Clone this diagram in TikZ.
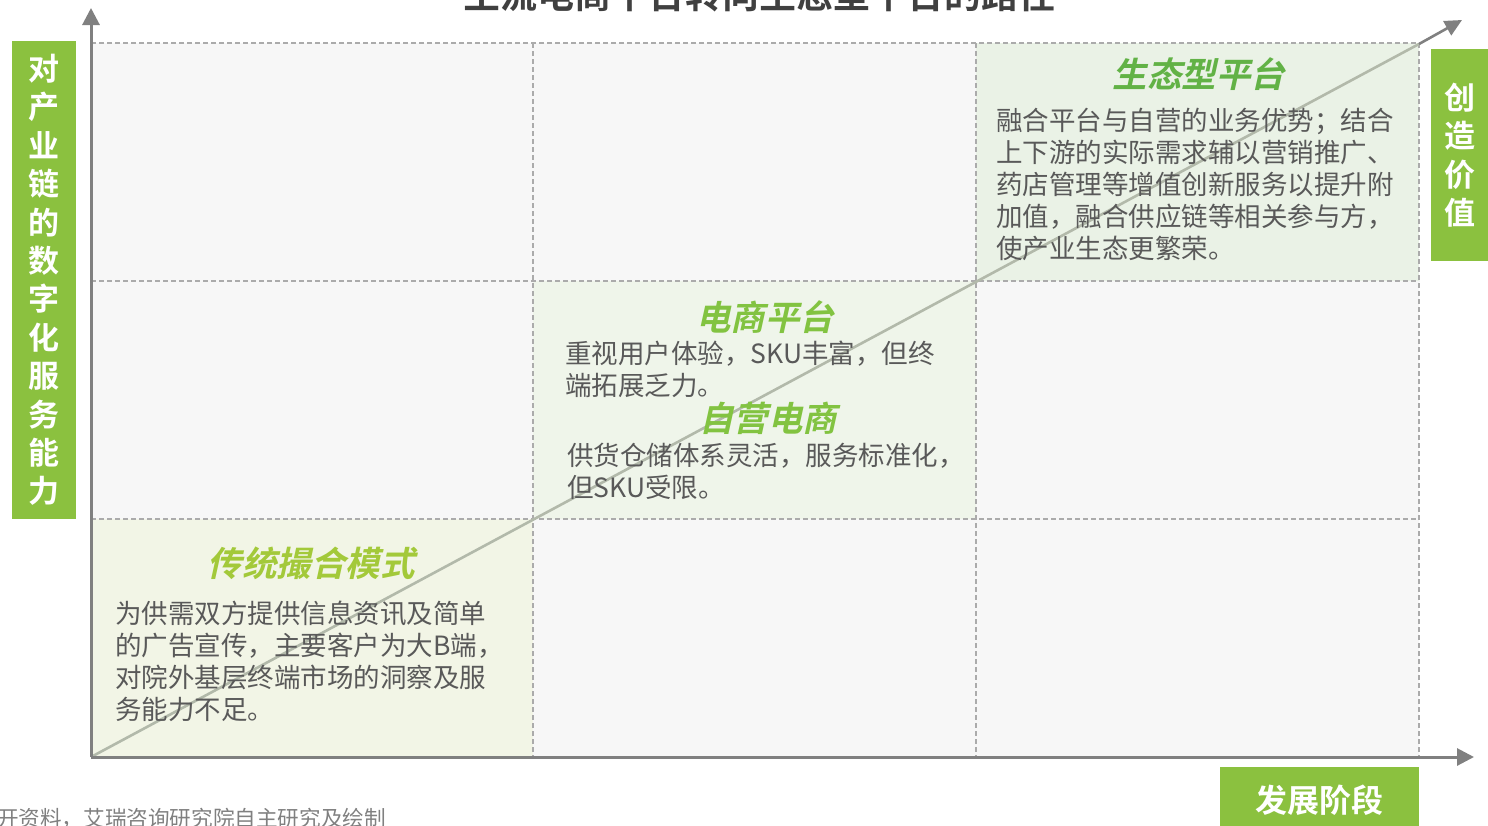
\documentclass[tikz,border=0pt]{standalone}
\usepackage{fontspec}
\setmainfont{Noto Sans CJK SC}[BoldFont={Noto Sans CJK SC Bold}]
\newfontfamily\slfont{Noto Sans CJK SC Bold}[FakeSlant=0.22]
\usetikzlibrary{arrows.meta}
\definecolor{labgreen}{HTML}{8BC13F}
\definecolor{bodygray}{HTML}{595959}
\definecolor{gridgray}{HTML}{ABABAB}
\definecolor{axisgray}{HTML}{808080}
\definecolor{diaggray}{HTML}{B2B9AA}
\definecolor{cellbg}{HTML}{F7F7F7}
\definecolor{cellbl}{HTML}{F2F5E6}
\definecolor{cellmid}{HTML}{EFF5EA}
\definecolor{celltr}{HTML}{EAF2E6}
\definecolor{catA}{HTML}{A3C93A}
\definecolor{catB}{HTML}{82C341}
\definecolor{catC}{HTML}{62B246}
\definecolor{titlegray}{HTML}{404040}
\definecolor{srcgray}{HTML}{808080}
\begin{document}
\begin{tikzpicture}[x=1pt,y=-1pt,
  body/.style={anchor=north west, inner sep=0pt, align=left, text=bodygray, font=\fontsize{26.5}{32}\selectfont},
  cat/.style={inner sep=0pt, font=\slfont\fontsize{34.5}{34.5}\selectfont},
  labbox/.style={fill=labgreen, text=white, inner sep=0pt, align=center, font=\bfseries\fontsize{31}{38.4}\selectfont},
  gridline/.style={draw=gridgray, line width=1.4pt, dash pattern=on 5pt off 3pt},
  axis/.style={draw=axisgray, line width=3pt, -{Triangle[length=17pt,width=17pt]}},
]
\useasboundingbox (0,0) rectangle (1488,825);
\clip (0,0) rectangle (1488,825);

% cells
\fill[cellbg] (91,43) rectangle (1419,757);
\fill[cellbl] (91,519) rectangle (533,757);
\fill[cellmid] (533,281) rectangle (976,519);
\fill[celltr] (976,43) rectangle (1419,281);

% grid
\draw[gridline] (91,43) -- (1419,43);
\draw[gridline] (91,281) -- (1419,281);
\draw[gridline] (91,519) -- (1419,519);
\draw[gridline] (533,43) -- (533,757);
\draw[gridline] (976,43) -- (976,757);
\draw[gridline] (1419,43) -- (1419,757);

% coordinates
\coordinate (O) at (91,757);
\coordinate (ytip) at (91,8);
\coordinate (xtip) at (1474,757);
\coordinate (dmid) at (1419,44);
\coordinate (dtip) at (1462,20);

% diagonal
\draw[diaggray, line width=2.6pt] (O) -- (dmid);
\draw[axisgray, line width=2.6pt, -{Triangle[length=17pt,width=16pt]}] (dmid) -- (dtip);

% axes
\draw[axis] (O) -- (ytip);
\draw[axis] (O) -- (xtip);

% title (cut off)
\node[font=\bfseries\fontsize{37}{37}\selectfont, text=titlegray, inner sep=0pt] (title) at (759,-6) {主流电商平台转向生态型平台的路径};

% labels
\node[labbox, minimum width=64pt, minimum height=478pt] (ylab) at (44,280) {对\\产\\业\\链\\的\\数\\字\\化\\服\\务\\能\\力};
\node[labbox, minimum width=57pt, minimum height=212pt] (rlab) at (1459.5,155) {创\\造\\价\\值};
\node[labbox, minimum width=199pt, minimum height=66pt, font=\bfseries\fontsize{32}{32}\selectfont] (xlab) at (1319.5,800) {发展阶段};

% categories
\node[cat, text=catA] (c1) at (311,563) {传统撮合模式};
\node[body] (b1) at (115,601) {为供需双方提供信息资讯及简单\\的广告宣传，主要客户为大B端，\\对院外基层终端市场的洞察及服\\务能力不足。};

\node[cat, text=catB] (c2) at (765,317) {电商平台};
\node[body] (b2) at (565,341) {重视用户体验，SKU丰富，但终\\端拓展乏力。};

\node[cat, text=catB] (c3) at (768,418) {自营电商};
\node[body] (b3) at (567,443) {供货仓储体系灵活，服务标准化，\\但SKU受限。};

\node[cat, text=catC] (c4) at (1199,74) {生态型平台};
\node[body] (b4) at (996,108) {融合平台与自营的业务优势；结合\\上下游的实际需求辅以营销推广、\\药店管理等增值创新服务以提升附\\加值，融合供应链等相关参与方，\\使产业生态更繁荣。};

% source
\node[anchor=west, inner sep=0pt, text=srcgray, font=\fontsize{21.6}{21.6}\selectfont] (src) at (-3,818) {开资料，艾瑞咨询研究院自主研究及绘制};
\end{tikzpicture}
\end{document}
